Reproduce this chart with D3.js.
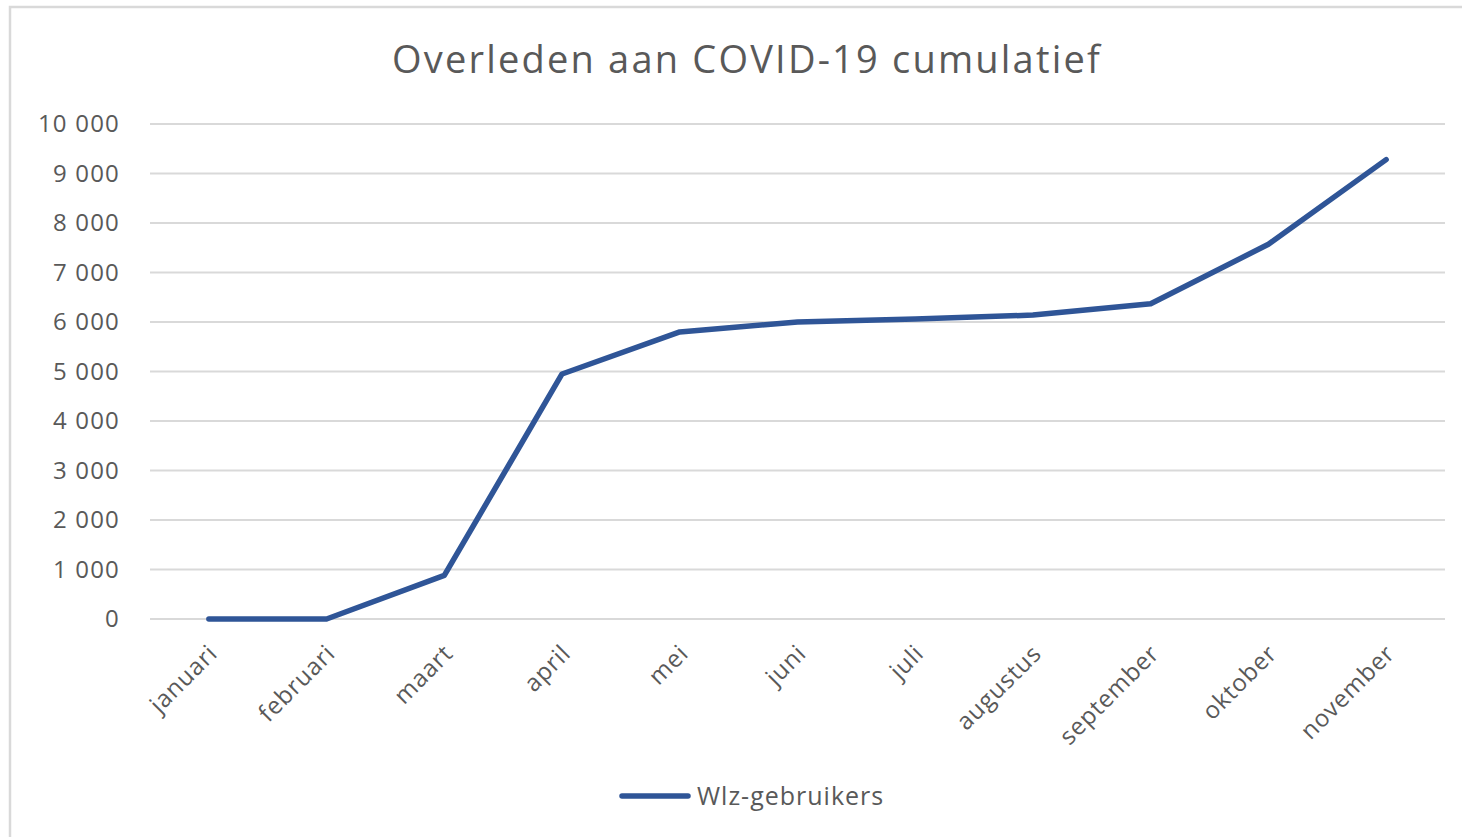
<!DOCTYPE html>
<meta charset="utf-8">
<style>
body { margin: 0; background: #fff; }
text { font-family: "Open Sans", Lato, sans-serif; fill: #595959; }
.grid line { stroke: #d9d9d9; stroke-width: 2; }
</style>
<svg width="1462" height="837"></svg>
<script src="https://d3js.org/d3.v7.min.js"></script>
<script>

var months = ["januari", "februari", "maart", "april", "mei", "juni", "juli", "augustus", "september", "oktober", "november"];
var deaths = [0, 0, 880, 4950, 5800, 6000, 6060, 6140, 6370, 7570, 9280];
var yTicks = [0, 1000, 2000, 3000, 4000, 5000, 6000, 7000, 8000, 9000, 10000];
var seriesName = "Wlz-gebruikers";
var title = "Overleden aan COVID-19 cumulatief";

var svg = d3.select("svg");

var margin = {left: 150, right: 17, top: 124, bottom: 218};
var width = 1462 - margin.left - margin.right,
    height = 837 - margin.top - margin.bottom;

// chart border
svg.append("rect")
    .attr("x", 10).attr("y", 7)
    .attr("width", 1462).attr("height", 850)
    .attr("fill", "none")
    .attr("stroke", "#d9d9d9")
    .attr("stroke-width", 2.5);

svg.append("text")
    .attr("x", 747).attr("y", 73)
    .attr("text-anchor", "middle")
    .attr("font-size", 38)
    .attr("letter-spacing", 2.2)
    .text(title);

var x = d3.scaleBand().domain(months).range([0, width]);
var y = d3.scaleLinear().domain([0, 10000]).range([height, 0]);

var g = svg.append("g").attr("transform", "translate(" + margin.left + "," + margin.top + ")");

g.append("g")
    .attr("class", "grid")
  .selectAll("line")
  .data(yTicks)
  .enter().append("line")
    .attr("x1", 0).attr("x2", width)
    .attr("y1", function(d) { return y(d); })
    .attr("y2", function(d) { return y(d); });

var fmt = function(d) { return d3.format(",")(d).replace(/,/g, " "); };

g.selectAll(".ylab")
  .data(yTicks)
  .enter().append("text")
    .attr("class", "ylab")
    .attr("x", -30)
    .attr("y", function(d) { return y(d); })
    .attr("dy", "0.35em")
    .attr("text-anchor", "end")
    .attr("font-size", 24)
    .attr("letter-spacing", 1.2)
    .text(fmt);

g.selectAll(".xlab")
  .data(months)
  .enter().append("text")
    .attr("class", "xlab")
    .attr("text-anchor", "end")
    .attr("font-size", 24)
    .attr("letter-spacing", 0.8)
    .attr("transform", function(d) {
      return "translate(" + (x(d) + x.bandwidth() / 2 + 10) + "," + (height + 36) + ") rotate(-45)";
    })
    .text(function(d) { return d; });

var line = d3.line()
    .x(function(d, i) { return x(months[i]) + x.bandwidth() / 2; })
    .y(function(d) { return y(d); });

g.append("path")
    .datum(deaths)
    .attr("fill", "none")
    .attr("stroke", "#2f5597")
    .attr("stroke-width", 5.5)
    .attr("stroke-linejoin", "round")
    .attr("stroke-linecap", "round")
    .attr("d", line);

// legend
var lg = svg.append("g").attr("transform", "translate(620,796)");
lg.append("line")
    .attr("x1", 2).attr("x2", 68)
    .attr("stroke", "#2f5597")
    .attr("stroke-width", 5.5)
    .attr("stroke-linecap", "round");
lg.append("text")
    .attr("x", 77).attr("dy", "0.35em")
    .attr("font-size", 25)
    .attr("letter-spacing", 1)
    .text(seriesName);

</script>
